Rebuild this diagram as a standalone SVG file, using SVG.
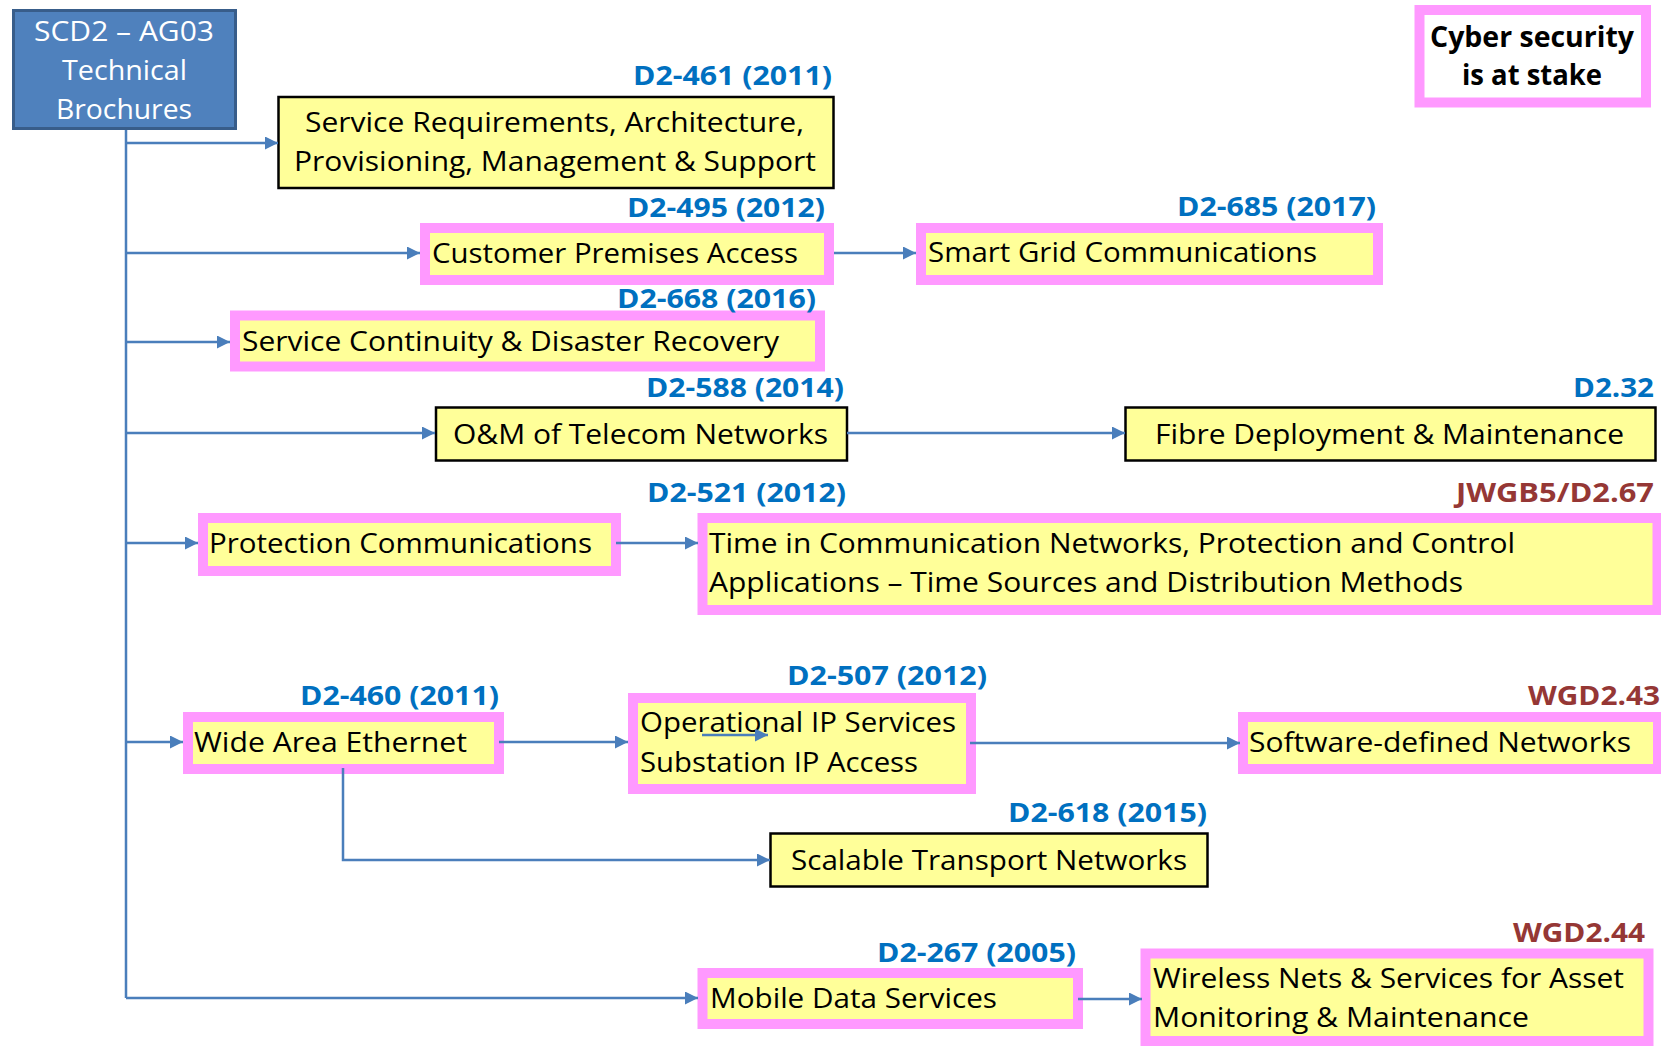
<svg xmlns="http://www.w3.org/2000/svg" width="1661" height="1046" viewBox="0 0 1661 1046">
<defs>
<style>
.pk{fill:#FFFF99;stroke:#FF99FF;stroke-width:10}
.bk{fill:#FFFF99;stroke:#000;stroke-width:2.5}
.t{font-family:"Open Sans","Liberation Sans",sans-serif;font-size:27px;fill:#000}
.lb{font-family:"Open Sans","Liberation Sans",sans-serif;font-size:27px;font-weight:bold;fill:#0070C0}
.lr{font-family:"Open Sans","Liberation Sans",sans-serif;font-size:27px;font-weight:bold;fill:#953735}
.w{font-family:"Open Sans","Liberation Sans",sans-serif;font-size:27px;fill:#fff}
.cs{font-family:"Open Sans","Liberation Sans",sans-serif;font-size:28px;font-weight:bold;fill:#000}
.c{fill:none;stroke:#4A7EBB;stroke-width:2.5}
</style>
<marker id="ah" markerUnits="userSpaceOnUse" markerWidth="13" markerHeight="13" refX="13" refY="6.5" orient="auto">
<path d="M0,0 L13,6.5 L0,13 z" fill="#4A7EBB"/>
</marker>
</defs>
<rect x="0" y="0" width="1661" height="1046" fill="#fff"/>

<g id="root">
<rect x="13.5" y="10.5" width="222" height="118" fill="#4F81BD" stroke="#385D8A" stroke-width="3"/>
<text class="w" x="34" y="41" textLength="180" lengthAdjust="spacingAndGlyphs">SCD2 – AG03</text>
<text class="w" x="62" y="80" textLength="125" lengthAdjust="spacingAndGlyphs">Technical</text>
<text class="w" x="56" y="119" textLength="136" lengthAdjust="spacingAndGlyphs">Brochures</text>
</g>

<g id="cyber">
<rect x="1419.5" y="10" width="226.5" height="92.5" fill="#fff" stroke="#FF99FF" stroke-width="10"/>
<text class="cs" x="1430" y="47" textLength="204" lengthAdjust="spacingAndGlyphs">Cyber security</text>
<text class="cs" x="1462" y="85" textLength="140" lengthAdjust="spacingAndGlyphs">is at stake</text>
</g>

<g id="n-service-req">
<rect class="bk" x="278.5" y="97" width="555" height="91"/>
<text class="lb" x="633" y="85" textLength="199" lengthAdjust="spacingAndGlyphs">D2-461 (2011)</text>
<text class="t" x="305" y="132" textLength="499" lengthAdjust="spacingAndGlyphs">Service Requirements, Architecture,</text>
<text class="t" x="294" y="171" textLength="522" lengthAdjust="spacingAndGlyphs">Provisioning, Management &amp; Support</text>
</g>

<g id="n-customer">
<rect class="pk" x="425" y="228" width="404" height="52"/>
<text class="lb" x="627" y="217" textLength="198" lengthAdjust="spacingAndGlyphs">D2-495 (2012)</text>
<text class="t" x="432" y="263" textLength="366" lengthAdjust="spacingAndGlyphs">Customer Premises Access</text>
</g>

<g id="n-smartgrid">
<rect class="pk" x="921" y="228" width="457" height="52"/>
<text class="lb" x="1177" y="216" textLength="199" lengthAdjust="spacingAndGlyphs">D2-685 (2017)</text>
<text class="t" x="928" y="262" textLength="389" lengthAdjust="spacingAndGlyphs">Smart Grid Communications</text>
</g>

<g id="n-continuity">
<rect class="pk" x="235" y="315.5" width="585" height="51"/>
<text class="lb" x="617" y="308" textLength="199" lengthAdjust="spacingAndGlyphs">D2-668 (2016)</text>
<text class="t" x="242" y="351" textLength="537" lengthAdjust="spacingAndGlyphs">Service Continuity &amp; Disaster Recovery</text>
</g>

<g id="n-om">
<rect class="bk" x="436" y="407.5" width="411" height="53"/>
<text class="lb" x="646" y="397" textLength="198" lengthAdjust="spacingAndGlyphs">D2-588 (2014)</text>
<text class="t" x="453" y="444" textLength="375" lengthAdjust="spacingAndGlyphs">O&amp;M of Telecom Networks</text>
</g>

<g id="n-fibre">
<rect class="bk" x="1125.5" y="407.5" width="530" height="53"/>
<text class="lb" x="1573" y="397" textLength="81" lengthAdjust="spacingAndGlyphs">D2.32</text>
<text class="t" x="1155" y="444" textLength="469" lengthAdjust="spacingAndGlyphs">Fibre Deployment &amp; Maintenance</text>
</g>

<g id="n-protection">
<rect class="pk" x="203" y="518" width="413" height="53"/>
<text class="lb" x="647" y="502" textLength="199" lengthAdjust="spacingAndGlyphs">D2-521 (2012)</text>
<text class="t" x="209" y="553" textLength="383" lengthAdjust="spacingAndGlyphs">Protection Communications</text>
</g>

<g id="n-time">
<rect class="pk" x="702.5" y="518" width="955" height="92"/>
<text class="lr" x="1456" y="502" textLength="198" lengthAdjust="spacingAndGlyphs">JWGB5/D2.67</text>
<text class="t" x="709" y="553" textLength="806" lengthAdjust="spacingAndGlyphs">Time in Communication Networks, Protection and Control</text>
<text class="t" x="709" y="592" textLength="754" lengthAdjust="spacingAndGlyphs">Applications – Time Sources and Distribution Methods</text>
</g>

<g id="n-wae">
<rect class="pk" x="188" y="717" width="311" height="52"/>
<text class="lb" x="300" y="705" textLength="199" lengthAdjust="spacingAndGlyphs">D2-460 (2011)</text>
<text class="t" x="194" y="752" textLength="273" lengthAdjust="spacingAndGlyphs">Wide Area Ethernet</text>
</g>

<g id="n-oips">
<rect class="pk" x="633" y="698" width="338" height="91"/>
<text class="lb" x="787" y="685" textLength="200" lengthAdjust="spacingAndGlyphs">D2-507 (2012)</text>
<text class="t" x="640" y="732" textLength="316" lengthAdjust="spacingAndGlyphs">Operational IP Services</text>
<text class="t" x="640" y="772" textLength="278" lengthAdjust="spacingAndGlyphs">Substation IP Access</text>
</g>

<g id="n-sdn">
<rect class="pk" x="1243" y="717" width="415" height="52"/>
<text class="lr" x="1528" y="705" textLength="132" lengthAdjust="spacingAndGlyphs">WGD2.43</text>
<text class="t" x="1249" y="752" textLength="382" lengthAdjust="spacingAndGlyphs">Software-defined Networks</text>
</g>

<g id="n-scalable">
<rect class="bk" x="770.5" y="833.5" width="437" height="53"/>
<text class="lb" x="1008" y="822" textLength="199" lengthAdjust="spacingAndGlyphs">D2-618 (2015)</text>
<text class="t" x="791" y="870" textLength="396" lengthAdjust="spacingAndGlyphs">Scalable Transport Networks</text>
</g>

<g id="n-mobile">
<rect class="pk" x="702.5" y="973" width="375.5" height="51"/>
<text class="lb" x="877" y="962" textLength="199" lengthAdjust="spacingAndGlyphs">D2-267 (2005)</text>
<text class="t" x="710" y="1008" textLength="287" lengthAdjust="spacingAndGlyphs">Mobile Data Services</text>
</g>

<g id="n-wireless">
<rect class="pk" x="1145.5" y="953.5" width="503" height="87.5"/>
<text class="lr" x="1513" y="942" textLength="132" lengthAdjust="spacingAndGlyphs">WGD2.44</text>
<text class="t" x="1153" y="988" textLength="471" lengthAdjust="spacingAndGlyphs">Wireless Nets &amp; Services for Asset</text>
<text class="t" x="1153" y="1027" textLength="376" lengthAdjust="spacingAndGlyphs">Monitoring &amp; Maintenance</text>
</g>

<g id="connectors">
<path class="c" d="M126 130 V998"/>
<path class="c" d="M126 143 H278" marker-end="url(#ah)"/>
<path class="c" d="M126 253 H420" marker-end="url(#ah)"/>
<path class="c" d="M834 253 H916" marker-end="url(#ah)"/>
<path class="c" d="M126 342 H230" marker-end="url(#ah)"/>
<path class="c" d="M126 433 H435" marker-end="url(#ah)"/>
<path class="c" d="M847 433 H1125" marker-end="url(#ah)"/>
<path class="c" d="M126 543 H198" marker-end="url(#ah)"/>
<path class="c" d="M616 543 H698" marker-end="url(#ah)"/>
<path class="c" d="M126 742 H183" marker-end="url(#ah)"/>
<path class="c" d="M499 742 H628" marker-end="url(#ah)"/>
<path class="c" d="M343 768 V860 H770" marker-end="url(#ah)"/>
<path class="c" d="M702 735 H768" marker-end="url(#ah)"/>
<path class="c" d="M970 743 H1240" marker-end="url(#ah)"/>
<path class="c" d="M126 998 H698" marker-end="url(#ah)"/>
<path class="c" d="M1078 999 H1142" marker-end="url(#ah)"/>
</g>
</svg>
